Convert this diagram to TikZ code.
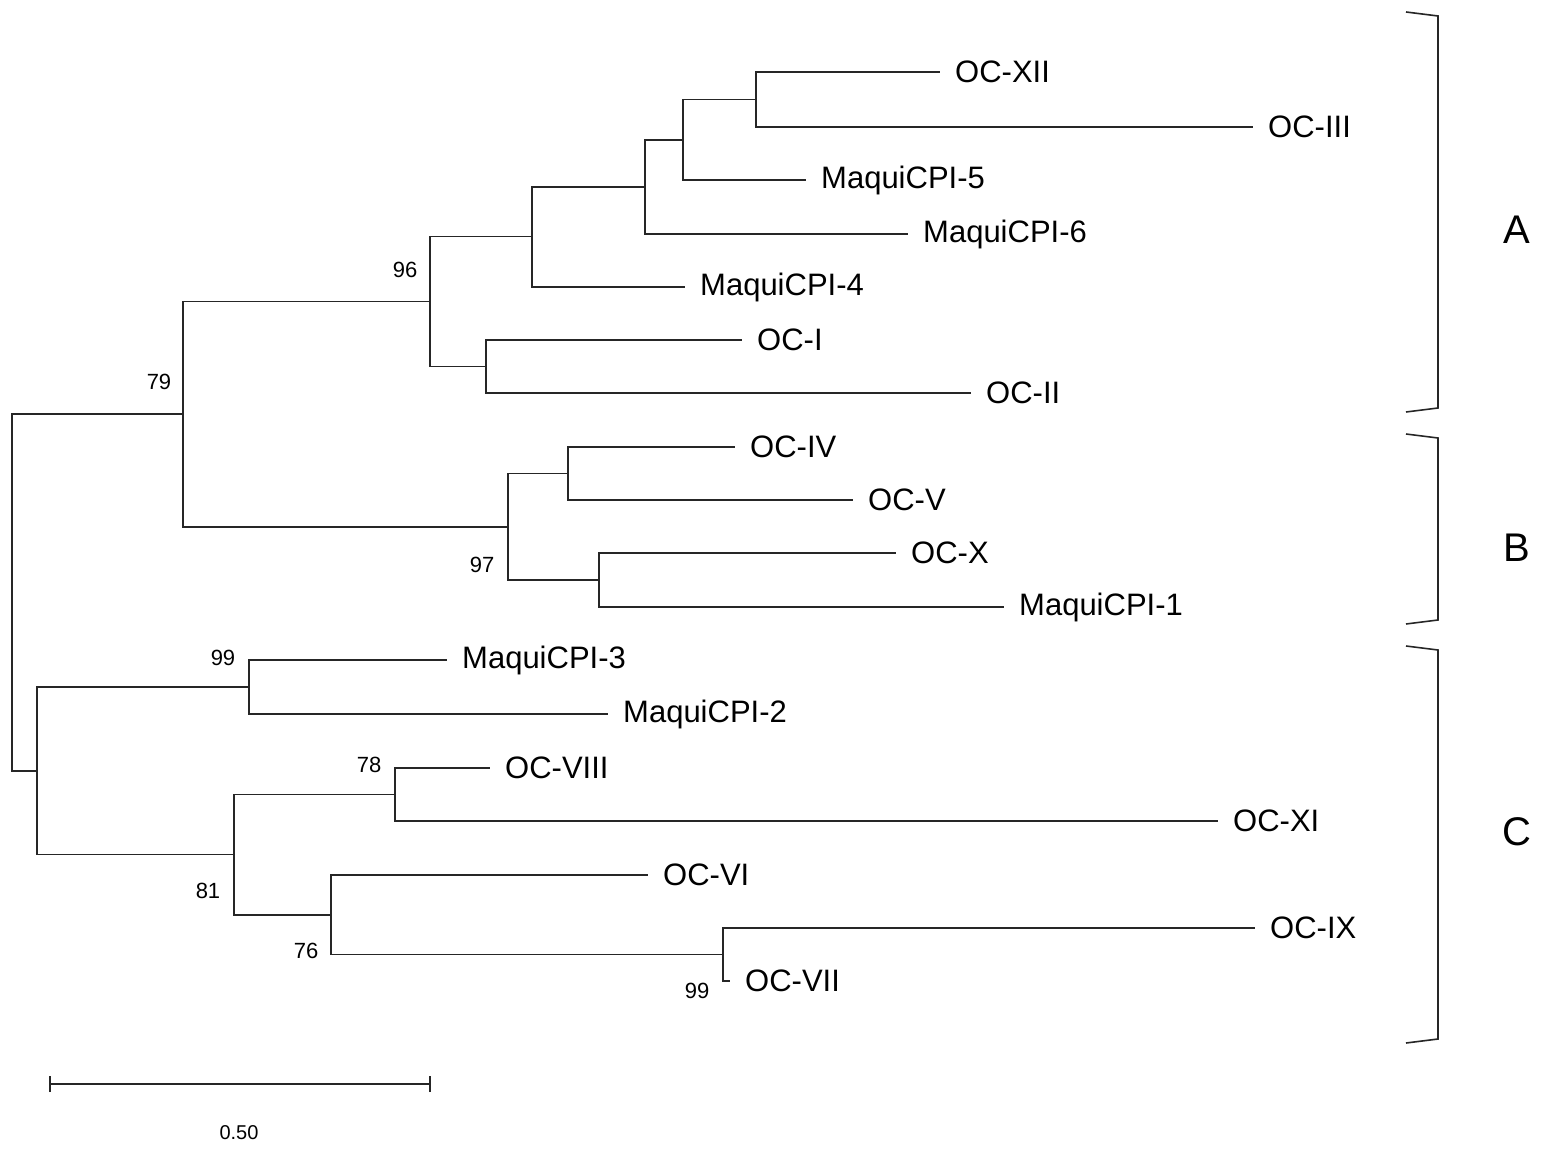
\documentclass[tikz,border=0pt]{standalone}
\usepackage{fontspec}
\setmainfont{Liberation Sans}
\begin{document}
\begin{tikzpicture}[x=1pt,y=-1pt,
  br/.style={line width=1.6pt,black!85},
  leaf/.style={anchor=west,inner sep=0pt,font=\fontsize{31}{31}\selectfont,xshift=15pt},
  bs/.style={inner sep=0pt,font=\fontsize{22}{22}\selectfont},
  grp/.style={font=\fontsize{40}{40}\selectfont}]
\useasboundingbox (0,0) rectangle (1542,1155);
% leaves
\foreach \n/\t/\x/\y in {l1/OC-XII/940/72, l2/OC-III/1253/127, l3/MaquiCPI-5/806/180, l4/MaquiCPI-6/908/234, l5/MaquiCPI-4/685/287, l6/OC-I/742/340, l7/OC-II/971/393, l8/OC-IV/735/447, l9/OC-V/853/500, l10/OC-X/896/553, l11/MaquiCPI-1/1004/607, l12/MaquiCPI-3/447/660, l13/MaquiCPI-2/608/714, l14/OC-VIII/490/768, l15/OC-XI/1218/821, l16/OC-VI/648/875, l17/OC-IX/1255/928, l18/OC-VII/730/981}
  {\coordinate (\n) at (\x,\y); \node[leaf] (t\n) at (\n) {\t};}
% internal nodes
\coordinate (n1) at (756,99.5);
\coordinate (n2) at (683,139.75);
\coordinate (n3) at (645,186.9);
\coordinate (n4) at (532,236.5);
\coordinate (n5) at (486,366.5);
\coordinate (n6) at (430,301.5);
\coordinate (n7) at (568,473.5);
\coordinate (n8) at (599,580);
\coordinate (n9) at (508,526.75);
\coordinate (n10) at (183,414.1);
\coordinate (n11) at (249,687);
\coordinate (n12) at (395,794.5);
\coordinate (n13) at (723,954.5);
\coordinate (n14) at (331,914.75);
\coordinate (n15) at (234,854.6);
\coordinate (n16) at (37,770.8);
\coordinate (root) at (12,592.45);
\foreach \p/\c in {n1/l1,n1/l2,n2/n1,n2/l3,n3/n2,n3/l4,n4/n3,n4/l5,n5/l6,n5/l7,n6/n4,n6/n5,
  n7/l8,n7/l9,n8/l10,n8/l11,n9/n7,n9/n8,n10/n6,n10/n9,n11/l12,n11/l13,n12/l14,n12/l15,
  n13/l17,n13/l18,n14/l16,n14/n13,n15/n12,n15/n14,n16/n11,n16/n15,root/n10,root/n16}
  \draw[br] (\p) |- (\c);
% bootstrap values
\node[bs] (b96) at (405,270) {96};
\node[bs] (b79) at (159,382) {79};
\node[bs] (b97) at (482,565) {97};
\node[bs] (b99a) at (223,658) {99};
\node[bs] (b78) at (369,765) {78};
\node[bs] (b81) at (208,891) {81};
\node[bs] (b76) at (306,951) {76};
\node[bs] (b99b) at (697,991) {99};
% brackets
\foreach \g/\a/\b/\m in {A/12/412/230, B/434/624/548, C/646/1043/832}{
  \draw[br] (1406,\a) -- (1438,\a+4) -- (1438,\b-4) -- (1406,\b);
  \node[grp] (g\g) at (1517,\m) {\g};}
% scale bar
\coordinate (s1) at (50,1084); \coordinate (s2) at (430,1084);
\draw[br] (s1) -- (s2);
\draw[br] ([yshift=-8]s1) -- ([yshift=8]s1);
\draw[br] ([yshift=-8]s2) -- ([yshift=8]s2);
\node[bs,font=\fontsize{20}{20}\selectfont] (sl) at (239,1133) {0.50};
\end{tikzpicture}
\end{document}
